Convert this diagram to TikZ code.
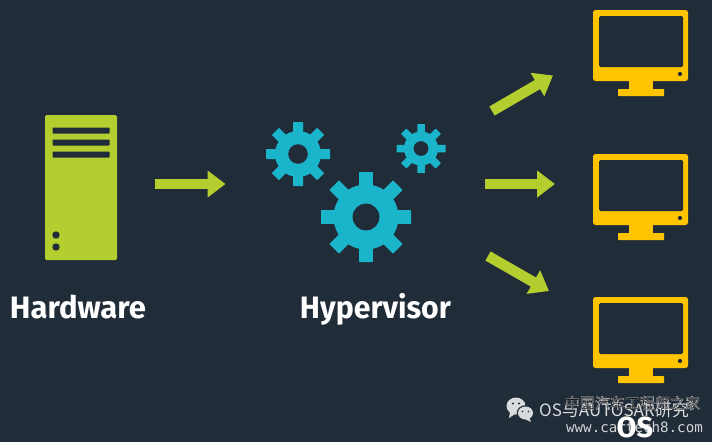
\documentclass[tikz,border=0pt]{standalone}
\usepackage{fontspec}
\setmainfont{Fira Sans}
\newfontfamily\cjkfont{Noto Sans CJK SC}
\newfontfamily\wmfont{DejaVu Sans Mono}
\usetikzlibrary{arrows.meta}
\definecolor{bgc}{HTML}{212C39}
\definecolor{lime}{HTML}{B4CE2F}
\definecolor{gearc}{HTML}{1AB4CB}
\definecolor{mon}{HTML}{FFC400}
\definecolor{wmc}{HTML}{D8DADC}
\tikzset{
  flow/.style={draw=lime,line width=10.5pt,-{Triangle[length=18pt,width=26pt]}},
  lbl/.style={text=white,font=\bfseries\fontsize{31}{33}\selectfont,inner sep=0pt},
  bar/.style={fill=bgc,rounded corners=0.6pt},
}
\newcommand{\gearshape}[6]{%
  \begin{scope}[shift={(#1,#2)},rotate=#6]
    \fill[gearc] (0,0) circle (#3);
    \foreach \a in {0,45,...,315}{
      \fill[gearc,rotate=\a,rounded corners=0.5pt] (0,-#5/2) rectangle (#4,#5/2);
    }
    \fill[bgc] (0,0) circle ({#5*0.98});
  \end{scope}
}
\newcommand{\monitor}[1]{%
  \begin{scope}[yshift=-#1pt]
    \fill[mon,rounded corners=2.5pt] (593,10) rectangle (688,81);
    \fill[bgc,rounded corners=1.5pt] (599,16) rectangle (683,67);
    \fill[mon] (629,80) rectangle (652.5,90);
    \fill[mon,rounded corners=0.6pt] (618,89) rectangle (664,96);
    \fill[bgc] (680,74) circle (2.1);
  \end{scope}
}
\begin{document}
\begin{tikzpicture}[x=1pt,y=-1pt]
\useasboundingbox (0,0) rectangle (712,442);
\fill[bgc] (0,0) rectangle (712,442);
% server
\fill[lime,rounded corners=1.5pt] (45,115) rectangle (117,260);
\fill[bar] (52.5,127.5) rectangle (109.5,133.5);
\fill[bar] (52.5,139.5) rectangle (109.5,145.5);
\fill[bar] (52.5,151.5) rectangle (109.5,157.5);
\fill[bgc] (56,235) circle (3.7);
\fill[bgc] (56,247) circle (3.7);
\node[lbl,anchor=base] (hw) at (78,318.5) {Hardware};
% arrows
\coordinate (a1s) at (155,184);
\coordinate (a1e) at (225.5,184);
\coordinate (a2s) at (492,111);
\coordinate (a2e) at (553,75.5);
\coordinate (a3s) at (485,184);
\coordinate (a3e) at (555,184);
\coordinate (a4s) at (488,256);
\coordinate (a4e) at (549,291);
\draw[flow] (a1s) -- (a1e);
\draw[flow] (a2s) -- (a2e);
\draw[flow] (a3s) -- (a3e);
\draw[flow] (a4s) -- (a4e);
% gears
\gearshape{298}{154}{23}{32}{10}{0}
\gearshape{421}{148.5}{17}{24.5}{7.5}{0}
\gearshape{366}{217}{32.5}{45}{13.7}{0}
\node[lbl,anchor=base,xscale=0.975] (hv) at (375.5,318.5) {Hypervisor};
% monitors
\monitor{0}
\monitor{144}
\monitor{287}
% watermark
\fill[wmc] (516,406) ellipse (9.5 and 8.5);
\fill[wmc] (510,412) -- (509,418) -- (515,414) -- cycle;
\fill[bgc] (525.5,413) ellipse (8.8 and 7.8);
\fill[wmc] (525.5,413) ellipse (7.5 and 6.5);
\fill[wmc] (529,417) -- (531,422) -- (525,419) -- cycle;
\fill[bgc] (513,403.5) circle (1.1);
\fill[bgc] (519,403.5) circle (1.1);
\fill[bgc] (522.5,411.5) circle (0.9);
\fill[bgc] (528.5,411.5) circle (0.9);
\node[text=wmc,font=\cjkfont\fontsize{17}{18}\selectfont,anchor=west,inner sep=0pt] (wm1) at (539,410) {OS与AUTOSAR研究};
\node[text=white!80!bgc,font=\wmfont\fontsize{14.2}{15}\selectfont,anchor=center,inner sep=0pt] (wm4) at (634.5,427) {www.cartech8.com};
\node[text=white,font=\bfseries\fontsize{29}{30}\selectfont,anchor=base,inner sep=0pt] (wm3) at (635,437) {OS};
\node[text=black,font=\cjkfont\fontsize{15}{16}\selectfont,anchor=center,inner sep=0pt] (wm2) at (632.5,403) {\special{pdf:code 0.3 w 0.9 0.9 0.9 RG 2 Tr}中国汽车工程师之家\special{pdf:code 0 Tr}};
\end{tikzpicture}
\end{document}
